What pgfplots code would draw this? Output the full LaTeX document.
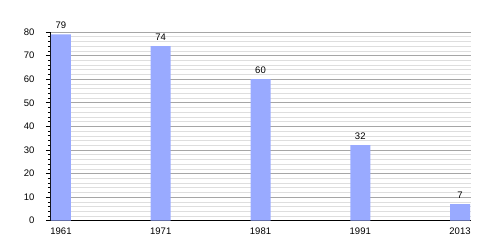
\documentclass[border=0pt]{standalone}
\usepackage{fontspec}
\setmainfont{Liberation Sans}
\usepackage{pgfplots}
\pgfplotsset{compat=1.18}
\definecolor{barblue}{RGB}{153,170,255}
\begin{document}
\begin{tikzpicture}
\begin{axis}[
 scale only axis, width=421bp, height=188.7bp,
 xmin=-0.11, xmax=4.11, ymin=0, ymax=80,
 axis x line*=bottom, axis y line*=left,
 axis line style={black, line width=0.8pt, -},
 xtick={0,...,4}, xticklabels={1961,1971,1981,1991,2013},
 x tick style={draw=none},
 ytick={0,10,...,80}, minor y tick num=4,
 ymajorgrids, yminorgrids,
 major grid style={black!35, line width=0.6pt},
 minor grid style={black!13, line width=0.5pt},
 tick align=outside,
 major tick length=4bp, minor tick length=2bp,
 y tick style={black, line width=0.6pt},
 tick label style={font=\fontsize{9.5bp}{11bp}\selectfont},
 yticklabel style={xshift=-8bp},
 /pgf/number format/assume math mode=true,
 ybar, bar width=20bp,
 nodes near coords,
 every node near coord/.append style={font=\fontsize{9.5bp}{11bp}\selectfont, yshift=2bp},
]
\addplot[fill=barblue, draw=none] coordinates {(0,79) (1,74) (2,60) (3,32) (4,7)};
\end{axis}
\pgfresetboundingbox
\path[use as bounding box] (-50bp,-29.3bp) rectangle (450bp,220.7bp);
\end{tikzpicture}
\end{document}
